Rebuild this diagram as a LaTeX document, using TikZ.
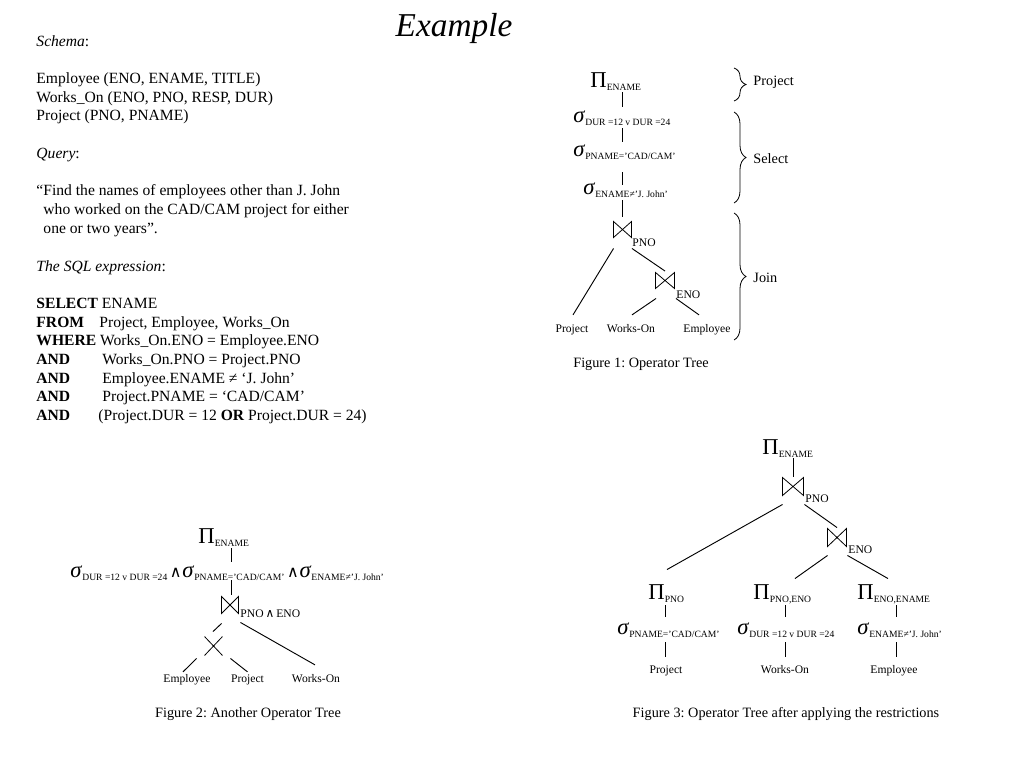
\documentclass[tikz,border=0pt]{standalone}
\usepackage{fontspec}
\setmainfont{Liberation Serif}
\newfontfamily\djv{DejaVu Sans}
\usetikzlibrary{calc,decorations.pathreplacing}
\frenchspacing
\newcommand\opsym[2]{{\fontsize{17}{17}\selectfont #1}\raisebox{-2.4pt}{\fontsize{7.2}{8}\selectfont #2}}
\newcommand\sig[1]{\opsym{\textit{σ}}{#1}}
\newcommand\prj[1]{\opsym{Π}{#1}}
\newcommand\andsym{{\djv\fontsize{12}{12}\selectfont ∧}}
\newcommand\drawjoin[1]{\draw[jline] (#1.north west) -- (#1.south west) -- (#1.north east) -- (#1.south east) -- cycle;}
\begin{document}
\begin{tikzpicture}[x=0.75pt,y=-0.75pt,
  every path/.style={line width=0.7pt},
  jline/.style={line width=0.6pt},
  op/.style={anchor=base west, inner sep=0pt, text height=10.5pt, text depth=3pt},
  leaf/.style={anchor=base, inner sep=0pt, font=\fontsize{8.7}{10}\selectfont, text height=6.5pt, text depth=0pt},
  jl/.style={anchor=base west, inner sep=0pt, font=\fontsize{8.7}{10}\selectfont},
  figcap/.style={inner sep=0pt, font=\fontsize{10.7}{13}\selectfont},
  txt/.style={anchor=base west, inner sep=0pt, font=\fontsize{11.7}{14}\selectfont},
  blabel/.style={anchor=west, inner sep=0pt, font=\fontsize{10.7}{13}\selectfont},
  joinop/.style={inner sep=0pt, minimum width=12.75pt, minimum height=11.25pt},
  crossop/.style={inner sep=0pt, minimum width=12.75pt, minimum height=13.5pt},
  brc/.style={decorate, decoration={brace, amplitude=9pt, aspect=0.5}, line width=0.6pt}
]
\useasboundingbox (0,0) rectangle (1024,768);

% Title
\node[inner sep=0pt, font=\fontsize{25}{30}\selectfont\itshape] (title) at (454,28) {Example};

% Left text
\node[txt] (t1) at (36,46) {\textit{Schema}:};
\node[txt] (t2) at (36,83) {Employee (ENO, ENAME, TITLE)};
\node[txt] (t3) at (36,102) {Works\_On (ENO, PNO, RESP, DUR)};
\node[txt] (t4) at (36,120) {Project (PNO, PNAME)};
\node[txt] (t5) at (36,158) {\textit{Query}:};
\node[txt] (t6) at (36,195) {“Find the names of employees other than J. John};
\node[txt] (t7) at (43,214) {who worked on the CAD/CAM project for either};
\node[txt] (t8) at (43,233) {one or two years”.};
\node[txt] (t9) at (36,271) {\textit{The SQL expression}:};
\node[txt] (s1) at (36,308) {\textbf{SELECT} ENAME};
\node[txt] (s2k) at (36,327) {\textbf{FROM}};
\node[txt] (s2v) at (99,327) {Project, Employee, Works\_On};
\node[txt] (s3) at (36,345) {\textbf{WHERE} Works\_On.ENO = Employee.ENO};
\node[txt] (s4k) at (36,364) {\textbf{AND}};
\node[txt] (s4v) at (102,364) {Works\_On.PNO = Project.PNO};
\node[txt] (s5k) at (36,383) {\textbf{AND}};
\node[txt] (s5v) at (102,383) {Employee.ENAME ≠ ‘J. John’};
\node[txt] (s6k) at (36,401) {\textbf{AND}};
\node[txt] (s6v) at (102,401) {Project.PNAME = ‘CAD/CAM’};
\node[txt] (s7k) at (36,420) {\textbf{AND}};
\node[txt] (s7v) at (98,420) {(Project.DUR = 12 \textbf{OR} Project.DUR = 24)};

% ---------- Figure 1 ----------
\node[op] (f1p) at (590,87) {\prj{ENAME}};
\node[op] (f1s1) at (573,122) {\sig{DUR =12 v DUR =24}};
\node[op] (f1s2) at (573,156) {\sig{PNAME='CAD/CAM'}};
\node[op] (f1s3) at (583,194) {\sig{ENAME≠'J. John'}};
\node[joinop] (j1) at (622.5,229.5) {};
\node[jl] (j1l) at (632,246) {PNO};
\node[joinop, minimum width=13.5pt] (j2) at (665,280.5) {};
\node[jl] (j2l) at (676,298) {ENO};
\node[leaf] (f1l1) at (572,332) {Project};
\node[leaf] (f1l2) at (631,332) {Works-On};
\node[leaf] (f1l3) at (707,332) {Employee};
\node[figcap] (f1c) at (641,364) {Figure 1: Operator Tree};
\drawjoin{j1}
\drawjoin{j2}
\draw ($(f1p.south -| j1)+(0,1)$) -- ($(f1s1.north -| j1)+(0,-1)$);
\draw ($(f1s1.south -| j1)+(0,2)$) -- (f1s2.north -| j1);
\draw ($(f1s2.south -| j1)+(0,12)$) -- ($(f1s3.north -| j1)+(0,5)$);
\draw ($(f1s3.south -| j1)+(0,2)$) -- ($(j1.north)+(0,-5)$);
\draw ($(j1.south west)+(0,11)$) -- ($(f1l1.north)+(1,-8)$);
\draw ($(j1.south east)+(0.5,11)$) -- ($(j2.north)+(0,-1.5)$);
\draw ($(j2.south west)+(0.5,10)$) -- ($(f1l2.north)+(1,-8)$);
\draw ($(j2.south east)+(1.5,10)$) -- ($(f1l3.north)+(-8,-8)$);
% braces
\draw[brc] (734,68) -- (734,101);
\draw[brc] (734,112) -- (734,203);
\draw[brc] (734,213) -- (734,340);
\node[blabel] (bp) at (753,82) {Project};
\node[blabel] (bs) at (753,159) {Select};
\node[blabel] (bj) at (753,278) {Join};

% ---------- Figure 2 ----------
\node[op] (f2p) at (198,543) {\prj{ENAME}};
\node[op] (f2s) at (70,577) {\sig{DUR =12 v DUR =24}\hspace{2pt}\andsym\hspace{0.5pt}\sig{PNAME='CAD/CAM'}\hspace{2pt}\andsym\hspace{0.5pt}\sig{ENAME≠'J. John'}};
\node[joinop, minimum width=12pt, minimum height=12pt] (j3) at (230,605) {};
\node[jl] (j3l) at (240,617) {PNO\,{\djv\fontsize{9}{9}\selectfont ∧}\,ENO};
\node[crossop] (x1) at (213.5,646) {};
\node[leaf] (f2l1) at (187,682) {Employee};
\node[leaf] (f2l2) at (247.5,682) {Project};
\node[leaf] (f2l3) at (316,682) {Works-On};
\node[figcap] (f2c) at (248,714) {Figure 2: Another Operator Tree};
\drawjoin{j3}
\draw[jline] (x1.north west) -- (x1.south east) (x1.south west) -- (x1.north east);
\draw ($(f2p.south -| j3)+(1,1)$) -- ($(f2s.north -| j3)+(1,-1)$);
\draw ($(f2s.south -| j3)+(1,-1)$) -- ($(j3.north)+(1,-2)$);
\draw ($(j3.south west)+(0,10)$) -- ($(x1.north)+(-0.5,-5)$);
\draw ($(j3.south east)+(2,9)$) -- ($(f2l3.north)+(-1,-8)$);
\draw ($(x1.south west)+(-8,3)$) -- ($(f2l1.north)+(-4,-1)$);
\draw ($(x1.south east)+(8,3)$) -- ($(f2l2.north)+(0,-1)$);

% ---------- Figure 3 ----------
\node[op] (f3p) at (762,454) {\prj{ENAME}};
\node[joinop, minimum width=15pt, minimum height=12.75pt] (j4) at (793,486.5) {};
\node[jl] (j4l) at (805,502) {PNO};
\node[joinop, minimum width=13.5pt, minimum height=12.75pt] (j5) at (837,537.5) {};
\node[jl] (j5l) at (848,553) {ENO};
\node[op] (f3a) at (648,599) {\prj{PNO}};
\node[op] (f3b) at (753,599) {\prj{PNO,ENO}};
\node[op] (f3c) at (857,599) {\prj{ENO,ENAME}};
\node[op] (f3d) at (617,634) {\sig{PNAME='CAD/CAM'}};
\node[op] (f3e) at (737,634) {\sig{DUR =12 v DUR =24}};
\node[op] (f3f) at (857,634) {\sig{ENAME≠'J. John'}};
\node[leaf] (f3l1) at (666,673) {Project};
\node[leaf] (f3l2) at (785,673) {Works-On};
\node[leaf] (f3l3) at (894,673) {Employee};
\node[figcap] (f3cap) at (786,714) {Figure 3: Operator Tree after applying the restrictions};
\drawjoin{j4}
\drawjoin{j5}
\draw (f3p.south -| j4) -- ($(j4.north)+(0,-1)$);
\draw ($(j4.south west)+(0,9)$) -- ($(f3a.north west)+(19,-15)$);
\draw ($(j4.south east)+(1,9)$) -- ($(j5.north)+(0,-1)$);
\draw ($(j5.south west)+(0,9)$) -- ($(f3b.north west)+(42,-6)$);
\draw ($(j5.south east)+(1,9)$) -- ($(f3c.north west)+(31,-6)$);
\draw ($(f3a.south -| f3l1)+(-1,2)$) -- ($(f3d.north -| f3l1)+(-1,-3)$);
\draw ($(f3d.south -| f3l1)+(-1,4)$) -- ($(f3l1.north)+(-1,-7)$);
\draw ($(f3b.south -| f3l2)+(0,2)$) -- ($(f3e.north -| f3l2)+(0,-3)$);
\draw ($(f3e.south -| f3l2)+(0,4)$) -- ($(f3l2.north)+(0,-7)$);
\draw ($(f3c.south -| f3l3)+(2,2)$) -- ($(f3f.north -| f3l3)+(2,-3)$);
\draw ($(f3f.south -| f3l3)+(2,4)$) -- ($(f3l3.north)+(2,-7)$);
\end{tikzpicture}
\end{document}
